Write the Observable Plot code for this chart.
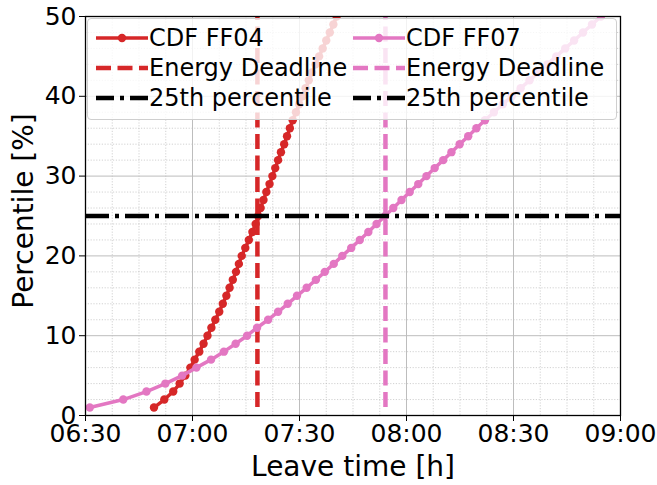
<!DOCTYPE html>
<html>
<head>
<meta charset="utf-8">
<script src="https://cdn.jsdelivr.net/npm/d3@7"></script>
<script src="https://cdn.jsdelivr.net/npm/@observablehq/plot@0.6"></script>
<style>
  body { margin: 0; background: #fff; }
  #wrap { position: relative; width: 657px; height: 485px; font-family: "DejaVu Sans", sans-serif; }
  #legend { position: absolute; left: 87px; top: 18px; width: 530px; height: 102px;
    background: rgba(255,255,255,0.8); border: 1px solid #cfcfcf; border-radius: 4px; box-sizing: border-box; }
  .item { position: absolute; height: 30px; display: flex; align-items: center; font-size: 24px;
    color: #000; white-space: nowrap; line-height: 30px; }
  .item svg { margin-right: 1px; }
</style>
</head>
<body>
<div id="wrap"></div>
<script>
// ---- data ----
const startMinutes = 390;               // 06:30 = minutes after midnight (x origin)
const percentiles = [1,2,3,4,5,6,7,8,9,10,11,12,13,14,15,16,17,18,19,20,21,22,23,24,25,
  26,27,28,29,30,31,32,33,34,35,36,37,38,39,40,41,42,43,44,45,46,47,48,49,50];
// leave time, minutes after 06:30, for each percentile
const ff04Minutes = [19.2,22.1,24.6,26.4,28.0,29.4,30.6,31.9,33.1,34.2,35.3,36.4,37.5,38.5,39.5,
  40.4,41.3,42.2,43.0,43.8,44.8,45.8,46.8,47.7,48.4,49.1,49.9,50.7,51.6,52.4,53.2,54.0,54.8,55.7,
  56.5,57.3,58.1,59.0,59.9,60.8,61.7,62.6,63.5,64.5,65.5,66.5,67.5,68.5,69.5,70.4];
const ff07Minutes = [1.2,10.6,17.1,22.4,27.1,31.1,35.2,38.8,42.1,45.3,48.1,51.2,54.0,56.7,59.3,
  62.0,64.6,67.1,69.6,72.0,74.5,76.9,79.3,81.6,84.0,86.3,88.6,90.9,93.3,95.6,97.9,100.3,102.6,
  104.9,107.3,109.6,112.0,114.5,117.0,119.5,122.0,124.5,127.0,129.5,132.0,134.5,137.0,139.5,142.0,144.5];
const deadlineFF04 = 48.2;   // 07:18
const deadlineFF07 = 84.1;   // 07:54
const percentileLine = 25;
const xTickMinutes = [0, 30, 60, 90, 120, 150];
const xMinorMinutes = [7.5,15,22.5,37.5,45,52.5,67.5,75,82.5,97.5,105,112.5,127.5,135,142.5];
const yTicks = [0, 10, 20, 30, 40, 50];
const yMinor = [2,4,6,8,12,14,16,18,22,24,26,28,32,34,36,38,42,44,46,48];
const seriesNames = ["CDF FF04", "CDF FF07"];
const legendLabels = ["Energy Deadline", "25th percentile"];
const colors = { ff04: "#d62728", ff07: "#e377c2", pct: "#000000" };

// ---- build ----
const toX = m => startMinutes + m;
const ff04 = percentiles.map((p, i) => ({ t: toX(ff04Minutes[i]), p }));
const ff07 = percentiles.map((p, i) => ({ t: toX(ff07Minutes[i]), p }));
const fmt = v => { const h = Math.floor(v / 60), m = Math.round(v % 60); return String(h).padStart(2,"0") + ":" + String(m).padStart(2,"0"); };

const chart = Plot.plot({
  width: 657, height: 485,
  marginLeft: 85, marginRight: 37, marginTop: 16, marginBottom: 70,
  x: { domain: [toX(0), toX(150)] },
  y: { domain: [0, 50] },
  style: { fontFamily: "DejaVu Sans", color: "black", background: "white", overflow: "visible" },
  marks: [
    Plot.gridX(xMinorMinutes.map(toX), { stroke: "#b8b8b8", strokeOpacity: 0.8, strokeDasharray: "1.2,1.6", strokeWidth: 0.8 }),
    Plot.gridY(yMinor, { stroke: "#b8b8b8", strokeOpacity: 0.8, strokeDasharray: "1.2,1.6", strokeWidth: 0.8 }),
    Plot.gridX(xTickMinutes.map(toX), { stroke: "#bdbdbd", strokeOpacity: 1, strokeWidth: 1 }),
    Plot.gridY(yTicks, { stroke: "#bdbdbd", strokeOpacity: 1, strokeWidth: 1 }),
    Plot.line(ff04, { x: "t", y: "p", stroke: colors.ff04, strokeWidth: 3.5, clip: true }),
    Plot.dot(ff04, { x: "t", y: "p", r: 4.2, fill: colors.ff04, stroke: "none", clip: true }),
    Plot.ruleX([toX(deadlineFF04)], { y1: 1, y2: 50, stroke: colors.ff04, strokeWidth: 4.5, strokeDasharray: "15,6.5" }),
    Plot.line(ff07, { x: "t", y: "p", stroke: colors.ff07, strokeWidth: 3.5, clip: true }),
    Plot.dot(ff07, { x: "t", y: "p", r: 4.2, fill: colors.ff07, stroke: "none", clip: true }),
    Plot.ruleX([toX(deadlineFF07)], { y1: 1, y2: 50, stroke: colors.ff07, strokeWidth: 4.5, strokeDasharray: "15,6.5" }),
    Plot.ruleY([percentileLine], { stroke: colors.pct, strokeWidth: 4.5, strokeDasharray: "24,6,4,6" }),
    Plot.frame({ stroke: "black", strokeWidth: 1.3 }),
    Plot.axisX(xTickMinutes.map(toX), { tickFormat: fmt, tickSize: 6, tickPadding: 3, fontSize: 25, label: null }),
    Plot.axisY(yTicks, { tickSize: 6, tickPadding: 3, fontSize: 25, label: null }),
    Plot.text(["Leave time [h]"], { text: d => d, frameAnchor: "bottom", textAnchor: "middle", lineAnchor: "middle", dy: 52, fontSize: 28 }),
    Plot.text(["Percentile [%]"], { text: d => d, frameAnchor: "left", textAnchor: "middle", lineAnchor: "middle", dx: -61, dy: -5, rotate: -90, fontSize: 28 })
  ]
});

const wrap = document.getElementById("wrap");
wrap.appendChild(chart);

// ---- legend ----
function handle(kind, color) {
  const w = 52, h = 30, c = h / 2;
  let inner = "";
  if (kind === "cdf") inner = `<line x1="0" y1="${c}" x2="${w}" y2="${c}" stroke="${color}" stroke-width="3.5"/><circle cx="${w/2}" cy="${c}" r="4.2" fill="${color}"/>`;
  if (kind === "dash") inner = `<line x1="0" y1="${c}" x2="${w}" y2="${c}" stroke="${color}" stroke-width="4.5" stroke-dasharray="15,6.5"/>`;
  if (kind === "dashdot") inner = `<line x1="0" y1="${c}" x2="${w}" y2="${c}" stroke="${color}" stroke-width="4.5" stroke-dasharray="18,6,4,6"/>`;
  return `<svg width="${w}" height="${h}">${inner}</svg>`;
}
const legend = document.createElement("div");
legend.id = "legend";
const cols = [
  { left: 8, color: colors.ff04, name: seriesNames[0] },
  { left: 265, color: colors.ff07, name: seriesNames[1] }
];
let html = "";
cols.forEach(col => {
  html += `<div class="item" style="left:${col.left}px;top:4px">${handle("cdf", col.color)}<span>${col.name}</span></div>`;
  html += `<div class="item" style="left:${col.left}px;top:34px">${handle("dash", col.color)}<span>${legendLabels[0]}</span></div>`;
  html += `<div class="item" style="left:${col.left}px;top:64px">${handle("dashdot", colors.pct)}<span>${legendLabels[1]}</span></div>`;
});
legend.innerHTML = html;
wrap.appendChild(legend);
</script>
</body>
</html>
